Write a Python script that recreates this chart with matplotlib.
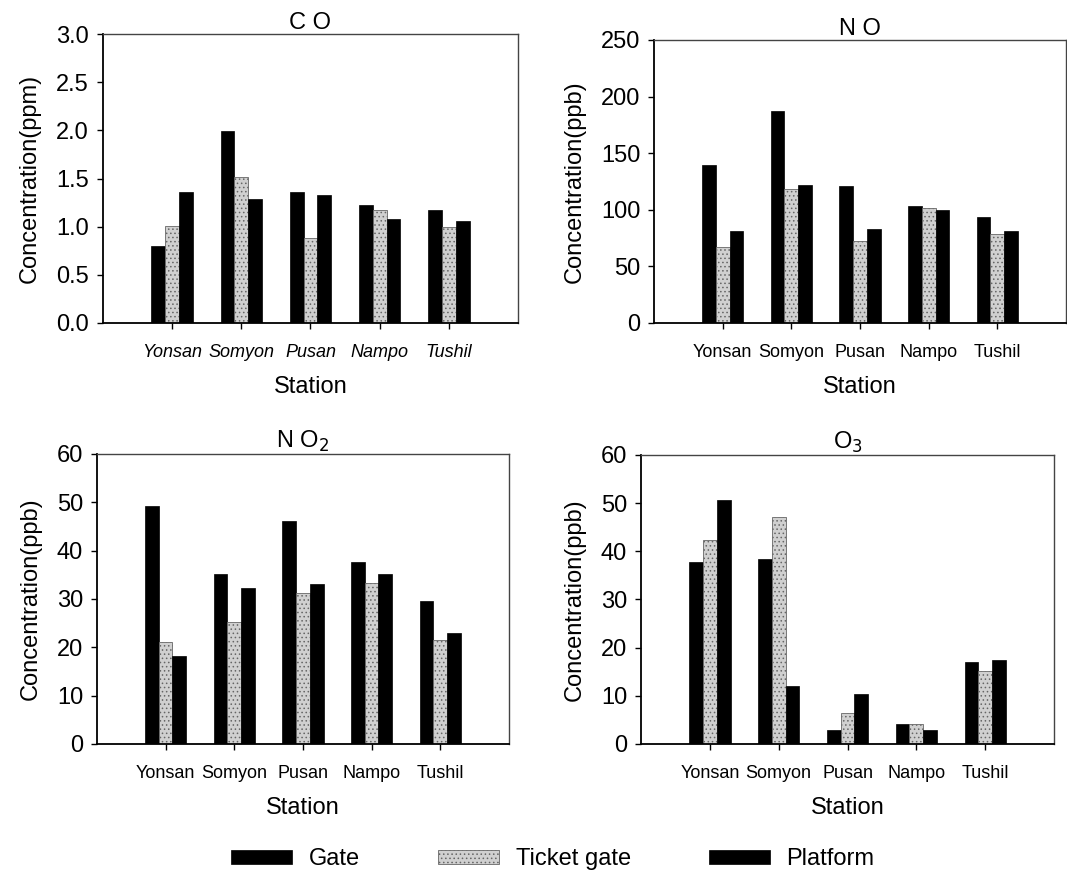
import matplotlib
matplotlib.use("Agg")
import matplotlib.pyplot as plt
import numpy as np

plt.rcParams['font.family'] = ['Liberation Sans', 'DejaVu Sans']
plt.rcParams['hatch.linewidth'] = 0.6

stations = ["Yonsan", "Somyon", "Pusan", "Nampo", "Tushil"]
series = ["Gate", "Ticket gate", "Platform"]

# CO (ppm)
co_gate = [0.80, 1.99, 1.36, 1.23, 1.17]
co_ticket = [1.01, 1.52, 0.88, 1.17, 1.00]
co_platform = [1.36, 1.29, 1.33, 1.08, 1.06]

# NO (ppb)
no_gate = [140, 187, 121, 103, 94]
no_ticket = [67, 118, 72, 102, 79]
no_platform = [81, 122, 83, 100, 81]

# NO2 (ppb)
no2_gate = [49.3, 35.1, 46.2, 37.6, 29.6]
no2_ticket = [21.1, 25.3, 31.3, 33.4, 21.6]
no2_platform = [18.2, 32.3, 33.0, 35.1, 22.9]

# O3 (ppb)
o3_gate = [37.7, 38.4, 2.8, 4.1, 17.1]
o3_ticket = [42.4, 47.1, 6.5, 4.2, 15.2]
o3_platform = [50.6, 12.0, 10.4, 2.9, 17.4]

fig = plt.figure(figsize=(10.67, 8.77), dpi=100)

panels = [
    ("C O", "Concentration(ppm)", (co_gate, co_ticket, co_platform), (0, 3.0), np.arange(0, 3.01, 0.5), "%.1f", True,
     [0.0965, 0.6317, 0.389, 0.3295]),
    ("N O", "Concentration(ppb)", (no_gate, no_ticket, no_platform), (0, 250), np.arange(0, 251, 50), "%d", False,
     [0.613, 0.6317, 0.386, 0.3227]),
    ("N O$_2$", "Concentration(ppb)", (no2_gate, no2_ticket, no2_platform), (0, 60), np.arange(0, 61, 10), "%d", False,
     [0.0909, 0.1517, 0.386, 0.3307]),
    ("O$_3$", "Concentration(ppb)", (o3_gate, o3_ticket, o3_platform), (0, 60), np.arange(0, 61, 10), "%d", False,
     [0.6008, 0.1517, 0.387, 0.3295]),
]

x = np.arange(len(stations))
w = 0.2
handles = None
for title, ylab, vals, ylim, yt, fmt, italic, pos in panels:
    ax = fig.add_axes(pos)
    g, t, p = vals
    b1 = ax.bar(x - w, g, w, color="black", edgecolor="black", linewidth=0.5)
    b2 = ax.bar(x, t, w, color="#d0d0d0", edgecolor="#666666", hatch="....", linewidth=0.6)
    b3 = ax.bar(x + w, p, w, color="black", edgecolor="black", linewidth=0.5)
    if handles is None:
        handles = [b1, b2, b3]
    ax.set_xlim(-1, 5)
    ax.set_ylim(*ylim)
    ax.set_yticks(yt)
    ax.set_yticklabels([fmt % v for v in yt], fontsize=17)
    ax.set_xticks(x)
    ax.set_xticklabels(stations, fontsize=13, style="italic" if italic else "normal")
    ax.tick_params(axis="both", direction="out", length=4, width=1, pad=6)
    ax.tick_params(axis="x", pad=11)
    ax.set_title(title, fontsize=17, pad=3)
    ax.set_ylabel(ylab, fontsize=17, labelpad=11)
    ax.set_xlabel("Station", fontsize=17, labelpad=11)
    for s in ["left", "bottom"]:
        ax.spines[s].set_linewidth(1.3)
        ax.spines[s].set_color("black")
    for s in ["top", "right"]:
        ax.spines[s].set_linewidth(1.0)
        ax.spines[s].set_color("#444444")

fig.legend(handles, series, loc="center", bbox_to_anchor=(0.518, 0.02), ncol=3, frameon=False,
           fontsize=17, handlelength=2.6, handleheight=0.55, columnspacing=3.3, handletextpad=0.7)

fig.savefig("out.png", dpi=100)
